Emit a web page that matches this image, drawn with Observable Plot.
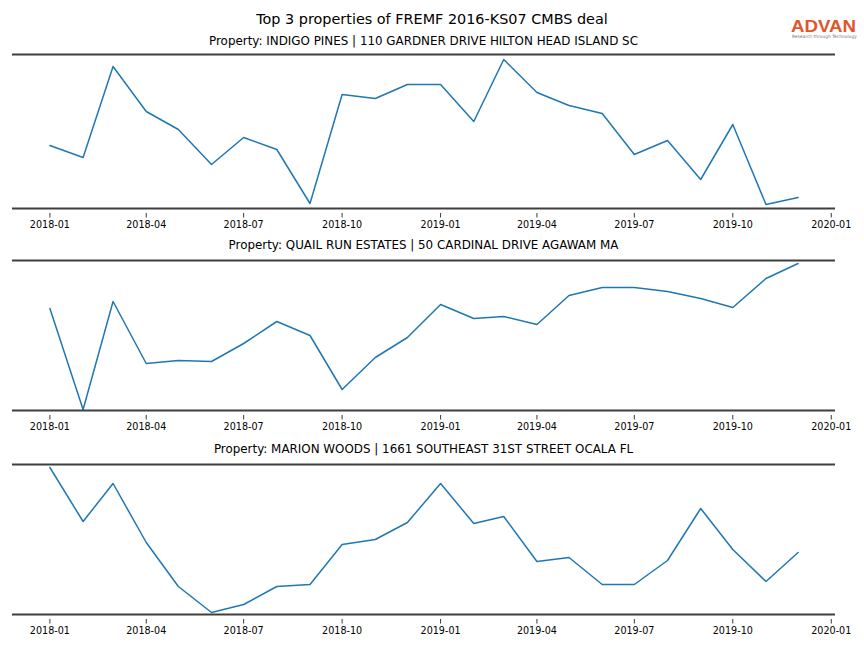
<!DOCTYPE html>
<html>
<head>
<meta charset="utf-8">
<script src="https://cdn.jsdelivr.net/npm/d3@7"></script>
<script src="https://cdn.jsdelivr.net/npm/@observablehq/plot@0.6"></script>
<style>
  html, body { margin: 0; padding: 0; background: #fff; }
  body { width: 864px; height: 648px; position: relative; overflow: hidden; font-family: "DejaVu Sans", sans-serif; color: #000; }
  .txt { position: absolute; white-space: nowrap; line-height: 1; }
  .panel { position: absolute; left: 0; }
</style>
</head>
<body>
<script>
// ---- data ----
const months = ["2018-01","2018-02","2018-03","2018-04","2018-05","2018-06","2018-07","2018-08","2018-09","2018-10","2018-11","2018-12",
                "2019-01","2019-02","2019-03","2019-04","2019-05","2019-06","2019-07","2019-08","2019-09","2019-10","2019-11","2019-12"];
const indigoPines = [155,143,234,189,171,136,163,151,97,206,202,216,216,179,241,208,195,187,146,160,121,176,96,103];
const quailRun    = [192,91,199,137,140,139,157,179,165,111,143,163,196,182,184,176,205,213,213,209,202,193,222,237];
const marionWoods = [233,179,217,158,114,88,96,114,116,156,161,178,217,177,184,139,143,116,116,140,192,151,119,148];
const yDomains = [[92, 246], [90, 240], [86, 236]];
const mainTitle = "Top 3 properties of FREMF 2016-KS07 CMBS deal";
const panelTitles = [
  "Property: INDIGO PINES | 110 GARDNER DRIVE HILTON HEAD ISLAND SC",
  "Property: QUAIL RUN ESTATES | 50 CARDINAL DRIVE AGAWAM MA",
  "Property: MARION WOODS | 1661 SOUTHEAST 31ST STREET OCALA FL"
];
const tickLabels = ["2018-01","2018-04","2018-07","2018-10","2019-01","2019-04","2019-07","2019-10","2020-01"];
const logoText = "ADVAN";
const logoTagline = "Research through Technology";

// ---- layout ----
const parse = d3.utcParse("%Y-%m");
const dates = months.map(parse);
const tickDates = tickLabels.map(parse);

function addText(text, opts) {
  const d = document.createElement("div");
  d.className = "txt";
  d.textContent = text;
  Object.assign(d.style, opts);
  document.body.appendChild(d);
  return d;
}

addText(mainTitle, {left: "0px", width: "864px", textAlign: "center", top: "12.3px", fontSize: "14.4px"});

// logo
addText(logoText, {left: "791px", top: "17.5px", fontSize: "17px", fontWeight: "bold", fontFamily: "'Liberation Sans', sans-serif", color: "#e0562c", transform: "scaleX(1.1)", transformOrigin: "left top"});
addText(logoTagline, {left: "792px", top: "35.3px", fontSize: "4.4px", color: "#777"});

const panels = [
  {values: indigoPines, top: 54, area: 154, titleBaseline: 46.5},
  {values: quailRun,    top: 260, area: 150, titleBaseline: 250.5},
  {values: marionWoods, top: 464, area: 150, titleBaseline: 454.5}
];

const xExt = d3.extent(dates);
const xPad = (xExt[1] - xExt[0]) * 0.05;
const xDomain = [new Date(+xExt[0] - xPad), new Date(+xExt[1] + xPad)];

panels.forEach((p, i) => {
  const fs = 11.9;
  addText(panelTitles[i], {left: "12px", width: "823px", textAlign: "center", top: (p.titleBaseline - 0.845 * fs) + "px", fontSize: fs + "px"});
  const data = dates.map((d, j) => ({date: d, value: p.values[j]}));
  const yDomain = yDomains[i];
  const mt = 4, mb = 32;
  const chart = Plot.plot({
    width: 864,
    height: mt + p.area + mb,
    marginTop: mt,
    marginBottom: mb,
    marginLeft: 12,
    marginRight: 29,
    style: {fontFamily: "'DejaVu Sans', sans-serif", fontSize: "9.6px", background: "transparent", color: "#000", overflow: "visible"},
    x: {type: "utc", domain: xDomain, ticks: tickDates, tickFormat: d3.utcFormat("%Y-%m"), tickSize: 0, tickPadding: 12.5, label: null},
    y: {domain: yDomain, axis: null},
    marks: [
      Plot.ruleX(tickDates, {stroke: "#222", strokeWidth: 0.9, insetTop: p.area + 5, insetBottom: -9.5}),
      Plot.line(data, {x: "date", y: "value", stroke: "#1f77b4", strokeWidth: 1.5}),
      Plot.ruleY(yDomain, {stroke: "#3f3f3f", strokeWidth: 2})
    ]
  });
  const wrap = document.createElement("div");
  wrap.className = "panel";
  wrap.style.top = (p.top - mt) + "px";
  wrap.appendChild(chart);
  document.body.appendChild(wrap);
});
</script>
</body>
</html>
